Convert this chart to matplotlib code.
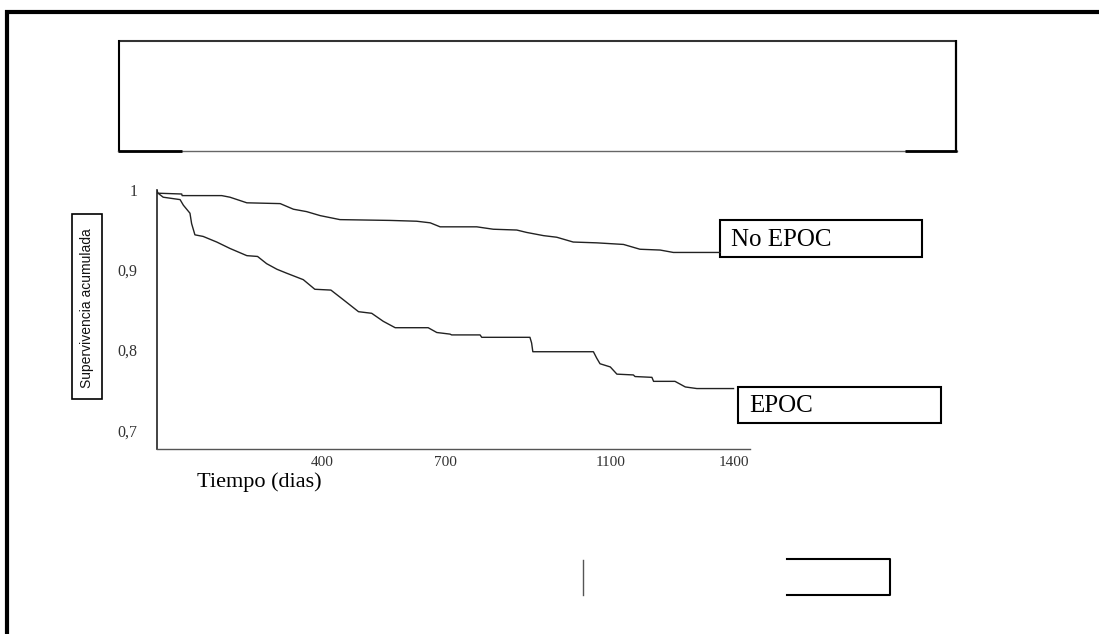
import matplotlib
matplotlib.use('agg')
import matplotlib.pyplot as plt
from matplotlib.patches import Rectangle

# supervivencia acumulada (dias, proporcion)
dias_no_epoc = [0, 2, 60, 61, 157, 177, 218, 299, 331, 363, 396, 444, 566, 630, 663,
                687, 776, 816, 873, 897, 938, 970, 1010, 1067, 1132, 1172, 1221, 1253, 1367]
surv_no_epoc = [1.000, 0.996, 0.995, 0.993, 0.993, 0.991, 0.984, 0.983, 0.976, 0.973,
                0.968, 0.963, 0.962, 0.961, 0.959, 0.954, 0.954, 0.951, 0.950, 0.947,
                0.943, 0.941, 0.935, 0.934, 0.932, 0.926, 0.925, 0.922, 0.922]

dias_epoc = [0, 15, 56, 64, 80, 84, 92, 112, 145, 177, 218, 244, 266, 291, 315, 355,
             383, 422, 452, 489, 521, 549, 578, 658, 679, 711, 715, 784, 788, 905, 909,
             912, 1059, 1067, 1075, 1100, 1116, 1156, 1160, 1201, 1205, 1257, 1282, 1310, 1399]
surv_epoc = [0.997, 0.991, 0.988, 0.981, 0.971, 0.958, 0.944, 0.942, 0.935, 0.927,
             0.918, 0.917, 0.908, 0.901, 0.896, 0.888, 0.876, 0.875, 0.863, 0.848,
             0.846, 0.836, 0.828, 0.828, 0.822, 0.820, 0.819, 0.819, 0.816, 0.816,
             0.809, 0.798, 0.798, 0.790, 0.783, 0.779, 0.770, 0.769, 0.767, 0.766,
             0.761, 0.761, 0.754, 0.752, 0.752]

x_ticks = [400, 700, 1100, 1400]
x_labels = ['400', '700', '1100', '1400']
y_ticks = [0.7, 0.8, 0.9, 1.0]
y_labels = ['0,7', '0,8', '0,9', '1']

serif = 'Liberation Serif'

fig = plt.figure(figsize=(10.99, 6.34), dpi=100)

# capa de fondo en pixeles para los marcos y cuadros
bg = fig.add_axes([0, 0, 1, 1])
bg.set_xlim(0, 1099)
bg.set_ylim(634, 0)
bg.axis('off')

# marco exterior
bg.plot([5, 1099], [11.5, 11.5], color='black', lw=3, solid_capstyle='butt', clip_on=False)
bg.plot([7, 7], [10, 634], color='black', lw=3, solid_capstyle='butt', clip_on=False)

# cuadro superior vacio
bg.plot([118, 957], [40.5, 40.5], color='#333333', lw=1.5, solid_capstyle='butt')
bg.plot([118.5, 118.5], [40, 152], color='black', lw=1.5, solid_capstyle='butt')
bg.plot([956, 956], [40, 152], color='black', lw=1.6, solid_capstyle='butt')
bg.plot([118, 957], [151, 151], color='#666666', lw=1.0)
bg.plot([118, 182], [151, 151], color='black', lw=2, solid_capstyle='butt')
bg.plot([905, 957], [151, 151], color='black', lw=2, solid_capstyle='butt')

# etiqueta del eje y en cuadro
bg.add_patch(Rectangle((72, 214), 30, 185, fill=False, ec='black', lw=1.2))
bg.text(87, 308, 'Supervivencia acumulada', rotation=90, ha='center', va='center',
        fontsize=10, family='Liberation Sans', color='#111111')

# cuadros de las curvas
bg.add_patch(Rectangle((720, 220), 202, 37, fill=False, ec='black', lw=1.5))
bg.text(731, 239.5, 'No EPOC', ha='left', va='center', fontsize=18, family=serif)
bg.add_patch(Rectangle((738, 387), 203, 36, fill=False, ec='black', lw=1.5))
bg.text(749, 405.5, 'EPOC', ha='left', va='center', fontsize=18, family=serif)

# restos inferiores
bg.plot([583, 583], [560, 595], color='#555555', lw=1)
bg.plot([787, 890, 890, 787], [559, 559, 595, 595], color='black', lw=1.5)

# grafico de supervivencia
ax = fig.add_axes([157 / 1099, (634 - 449) / 634, 593 / 1099, 259 / 634])
ax.patch.set_alpha(0)
ax.plot(dias_no_epoc, surv_no_epoc, color='#222222', lw=1.0)
ax.plot(dias_epoc, surv_epoc, color='#222222', lw=1.0)

ax.set_xlim(0, 1439)
ax.set_ylim(0.6765, 1.0)
ax.set_xticks(x_ticks)
ax.set_xticklabels(x_labels, family=serif, fontsize=11, color='#333333')
ax.set_yticks(y_ticks)
ax.set_yticklabels(y_labels, family=serif, fontsize=11.5, color='#333333')
ax.tick_params(axis='both', length=0)
ax.tick_params(axis='y', pad=14)
ax.tick_params(axis='x', pad=5)

for s in ['top', 'right']:
    ax.spines[s].set_visible(False)
ax.spines['left'].set_color('#222222')
ax.spines['left'].set_linewidth(1.2)
ax.spines['bottom'].set_color('#555555')
ax.spines['bottom'].set_linewidth(1.0)

ax.set_xlabel('Tiempo (dias)', fontsize=16, family=serif, va='center')
ax.xaxis.set_label_coords(0.172, -0.127)

plt.savefig('out.png', dpi=100)
